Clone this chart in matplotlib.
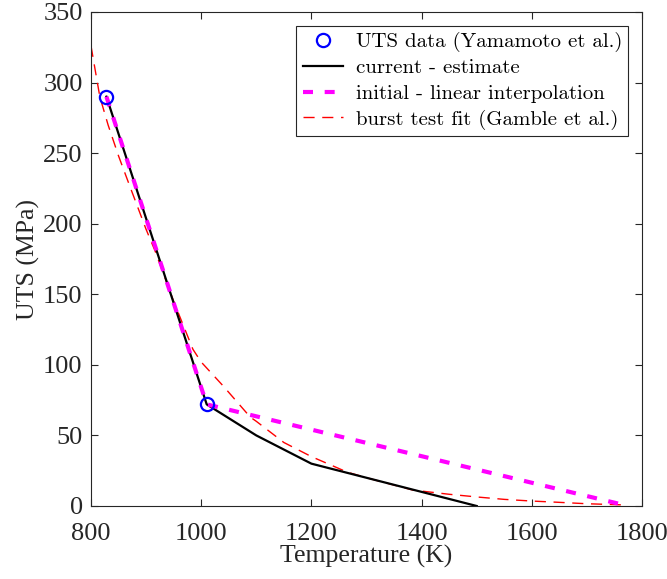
import matplotlib
matplotlib.use("Agg")
import matplotlib.pyplot as plt

# UTS data (Yamamoto et al.)
data_T = [828, 1010]
data_uts = [290, 72]

# current - estimate
cur_T = [828, 1010, 1100, 1200, 1500]
cur_uts = [290, 72, 50, 30, 0]

# initial - linear interpolation
init_T = [828, 1010, 1775]
init_uts = [290, 72, 0]

# burst test fit (Gamble et al.)
fit_T = [800, 816, 831, 850, 871, 900, 916, 950, 985, 1000, 1040, 1089, 1100,
         1150, 1200, 1265, 1300, 1384, 1450, 1506, 1550, 1600, 1639, 1700, 1773]
fit_uts = [326, 290, 270, 248, 226, 196, 181, 145, 111, 102, 85, 63, 60,
           45, 35, 24, 20, 11.3, 8.3, 6.2, 4.7, 3.5, 2.8, 1.6, 0.7]

xticks = [800, 1000, 1200, 1400, 1600, 1800]
yticks = [0, 50, 100, 150, 200, 250, 300, 350]

serif = ["Liberation Serif", "DejaVu Serif"]
fig = plt.figure(figsize=(6.67, 5.79), dpi=100)
ax = fig.add_axes([91/667, 1-506/579, (642-91)/667, (506-12)/579])

ax.plot(data_T, data_uts, "o", color="#0000ff", markerfacecolor="none",
        markersize=9.5, markeredgewidth=1.6, label="UTS data (Yamamoto et al.)", zorder=5)
ax.plot(cur_T, cur_uts, "-", color="black", linewidth=1.6, label="current - estimate", zorder=3)
ax.plot(init_T, init_uts, "--", color="#ff00ff", linewidth=3.0, dashes=(2.4, 2.8),
        label="initial - linear interpolation", zorder=4)
ax.plot(fit_T, fit_uts, "--", color="#ff0000", linewidth=1.0, dashes=(8, 5.5),
        label="burst test fit (Gamble et al.)", zorder=2)

ax.set_xlim(800, 1800)
ax.set_ylim(0, 350)
ax.set_xticks(xticks)
ax.set_yticks(yticks)
ax.tick_params(direction="in", top=True, right=True, length=5, width=0.8,
               colors="#262626", labelsize=19)
ax.tick_params(axis="x", pad=12)
ax.tick_params(axis="y", pad=6)
for lab in ax.get_xticklabels() + ax.get_yticklabels():
    lab.set_family(serif)
    lab.set_color("#262626")
for s in ax.spines.values():
    s.set_color("#262626")
    s.set_linewidth(0.8)

ax.set_xlabel("Temperature (K)", family=serif, fontsize=18.5, color="#262626", labelpad=0)
ax.set_ylabel("UTS (MPa)", family=serif, fontsize=18.5, color="#262626", labelpad=2)

leg = ax.legend(loc="upper right", prop={"family": "cmr10", "size": 15},
                frameon=True, fancybox=False, edgecolor="#262626", framealpha=1,
                handlelength=1.95, handletextpad=0.6, borderpad=0.3, labelspacing=0.33,
                borderaxespad=0.65)
leg.get_frame().set_linewidth(0.8)

fig.savefig("out.png", dpi=100)
